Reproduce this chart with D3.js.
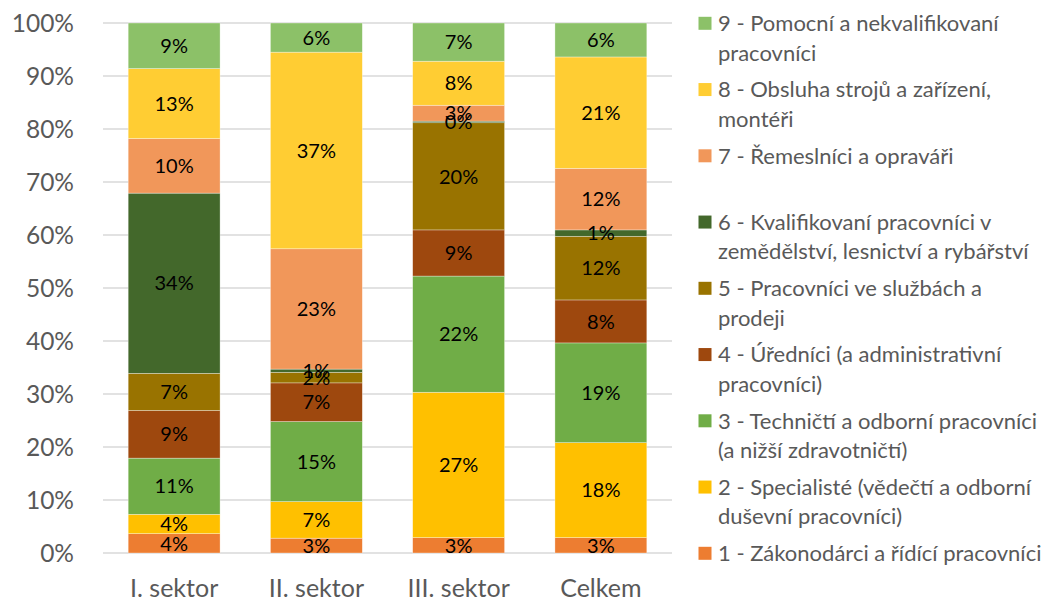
<!DOCTYPE html>
<html>
<head>
<meta charset="utf-8">
<script src="https://cdn.jsdelivr.net/npm/d3@7/dist/d3.min.js"></script>
<style>
  html, body { margin: 0; padding: 0; background: #fff; }
  svg { display: block; font-family: Lato, "Open Sans", sans-serif; }
</style>
</head>
<body>
<svg id="chart" width="1045" height="601"></svg>
<script>
// Sectors shown as bars
const categories = ["I. sektor", "II. sektor", "III. sektor", "Celkem"];

// Occupation groups (CZ-ISCO main classes), bottom of the stack first
const groups = [
  "1 - Zákonodárci a řídící pracovníci",
  "2 - Specialisté (vědečtí a odborní\nduševní pracovníci)",
  "3 - Techničtí a odborní pracovníci\n(a nižší zdravotničtí)",
  "4 - Úředníci (a administrativní\npracovníci)",
  "5 - Pracovníci ve službách a\nprodeji",
  "6 - Kvalifikovaní pracovníci v\nzemědělství, lesnictví a rybářství",
  "7 - Řemeslníci a opraváři",
  "8 - Obsluha strojů a zařízení,\nmontéři",
  "9 - Pomocní a nekvalifikovaní\npracovníci"
];

// Share of employed persons (%) per sector, one array per group
const g1 = [3.65, 2.8, 2.9, 2.9];
const g2 = [3.65, 6.9, 27.4, 17.9];
const g3 = [10.6, 15.1, 21.9, 18.8];
const g4 = [9.0, 7.3, 8.7, 8.1];
const g5 = [7.0, 2.0, 20.2, 12.0];
const g6 = [34.0, 0.6, 0.3, 1.2];
const g7 = [10.3, 22.7, 3.0, 11.6];
const g8 = [13.2, 37.1, 8.3, 21.0];
const g9 = [8.6, 5.5, 7.2, 6.4];
const seriesValues = [g1, g2, g3, g4, g5, g6, g7, g8, g9];

const yTicks = [0, 0.1, 0.2, 0.3, 0.4, 0.5, 0.6, 0.7, 0.8, 0.9, 1];

const colors = ["#ED7D31", "#FFC000", "#70AD47", "#9E480E", "#997300",
                "#43682B", "#F1975A", "#FFCD33", "#8CC168"];

// Build rows for d3.stack
const rows = categories.map((c, i) => {
  const r = { category: c };
  groups.forEach((g, k) => { r[k] = seriesValues[k][i]; });
  return r;
});
const keys = groups.map((g, k) => k);
const stacked = d3.stack().keys(keys).offset(d3.stackOffsetExpand)(rows);

const svg = d3.select("#chart");
const plot = { left: 103, right: 672, top: 23, bottom: 553 };

const x = d3.scaleBand().domain(categories)
  .range([plot.left, plot.right]).paddingInner(0.354).paddingOuter(0.177);
const y = d3.scaleLinear().domain([0, 1]).range([plot.bottom, plot.top]);

// Gridlines
svg.append("g").selectAll("line").data(yTicks).join("line")
  .attr("x1", plot.left).attr("x2", plot.right)
  .attr("y1", d => y(d)).attr("y2", d => y(d))
  .attr("stroke", "#D9D9D9").attr("stroke-width", 1.3);

// Y axis labels
const yAxis = d3.axisLeft(y).tickValues(yTicks).tickFormat(d3.format(".0%"))
  .tickSize(0).tickPadding(0);
const yg = svg.append("g").attr("transform", `translate(${74},0)`).call(yAxis);
yg.select(".domain").remove();
yg.selectAll("text").attr("fill", "#595959").attr("font-size", 24.5)
  .attr("font-family", "Lato, sans-serif").attr("dy", "0.36em");

// X axis labels
const xAxis = d3.axisBottom(x).tickSize(0).tickPadding(0);
const xg = svg.append("g").attr("transform", `translate(0,${plot.bottom})`).call(xAxis);
xg.select(".domain").remove();
xg.selectAll("text").attr("fill", "#595959").attr("font-size", 25)
  .attr("font-family", "Lato, sans-serif").attr("y", 44).attr("dy", null);

// Stacked bars
const layers = svg.append("g").selectAll("g").data(stacked).join("g")
  .attr("fill", d => colors[d.key]);
layers.selectAll("rect").data(d => d).join("rect")
  .attr("x", d => x(d.data.category))
  .attr("width", x.bandwidth())
  .attr("y", d => y(d[1]))
  .attr("height", d => y(d[0]) - y(d[1]))
  .attr("stroke", "rgba(255,255,255,0.55)").attr("stroke-width", 0.6);

// Data labels
const fmt = v => Math.round(v) + "%";
const labels = svg.append("g");
stacked.forEach(layer => {
  labels.selectAll(null).data(layer).join("text")
    .attr("x", d => x(d.data.category) + x.bandwidth() / 2)
    .attr("y", d => (y(d[0]) + y(d[1])) / 2)
    .attr("dy", "0.36em")
    .attr("text-anchor", "middle")
    .attr("font-size", 20)
    .attr("fill", "#000")
    .text(d => fmt(d.data[layer.key]));
});

// Legend, top entry is the last group
const legendOrder = keys.slice().reverse();
const slot = 66.25;
const lg = svg.append("g");
legendOrder.forEach((k, i) => {
  const cy = 23.3 + i * slot;
  lg.append("rect").attr("x", 698.5).attr("y", cy - 6.5)
    .attr("width", 13).attr("height", 13).attr("fill", colors[k]);
  const lines = groups[k].split("\n");
  const t = lg.append("text").attr("x", 718).attr("y", cy)
    .attr("fill", "#595959").attr("font-size", 22);
  lines.forEach((ln, j) => {
    t.append("tspan").attr("x", 718).attr("y", cy + j * 29.5)
      .attr("dy", "0.36em").text(ln);
  });
});
</script>
</body>
</html>
